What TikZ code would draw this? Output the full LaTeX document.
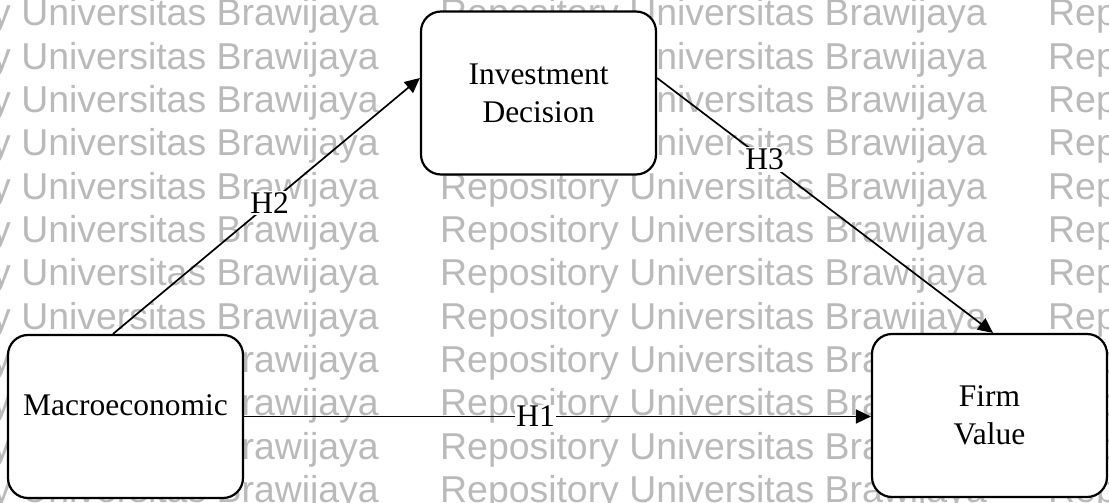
\documentclass[tikz,border=0pt]{standalone}
\usepackage{fontspec}
\setmainfont{Liberation Serif}
\newfontfamily\wmfont{Liberation Sans}
\usetikzlibrary{arrows.meta,calc}
\definecolor{wmgray}{RGB}{186,186,186}
\tikzset{
  box/.style={draw=black, line width=2.2pt, fill=white, rounded corners=20pt,
    minimum width=235pt, minimum height=163pt, inner sep=0pt, align=center,
    font=\fontsize{31.5}{38}\selectfont},
  conn/.style={line width=1.7pt, -{Triangle[length=15pt,width=14pt]}},
  hyp/.style={fill=white, inner sep=1.5pt, font=\fontsize{31.5}{38}\selectfont},
  wm/.style={anchor=base west, inner sep=0pt, text=wmgray,
    font=\wmfont\fontsize{37.4}{40}\selectfont}
}
\begin{document}
\begin{tikzpicture}[x=1pt,y=-1pt]
\useasboundingbox (0,0) rectangle (1109,503);
\fill[white] (0,0) rectangle (1109,503);
\begin{scope}
\clip (0,0) rectangle (1109,503);
\foreach \r in {0,...,11}{
  \foreach \c in {0,1,2}{
    \node[wm] (wm-\r-\c) at ({-168+608*\c},{26+43.33*\r}) {Repository Universitas Brawijaya};
  }
}
\end{scope}

\node[box] (invest) at (538.5,93) {Investment\\Decision};
\node[box, text depth=22pt] (macro) at (125.5,416.5) {Macroeconomic};
\node[box] (firm) at (989.5,415.5) {Firm\\Value};

\draw[conn] ($(macro.north)+(-12.5,0)$) -- node[hyp, pos=0.51] (h2) {H2} ($(invest.west)+(0,-15)$);
\draw[conn] ($(invest.east)+(0,-15)$) -- node[hyp, pos=0.32] (h3) {H3} ($(firm.north)+(3.5,0)$);
\draw[conn] (macro.east) -- node[hyp, pos=0.465] (h1) {H1} (macro.east -| firm.west);
\end{tikzpicture}
\end{document}
